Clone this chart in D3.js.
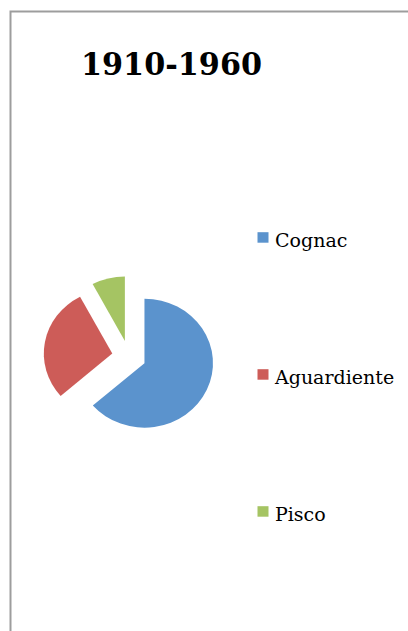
<!DOCTYPE html>
<html>
<head>
<meta charset="utf-8">
<script src="https://cdn.jsdelivr.net/npm/d3@7"></script>
<style>
  html, body { margin: 0; padding: 0; background: #fff; }
  svg { display: block; }
</style>
</head>
<body>
<svg id="chart" width="408" height="631"></svg>
<script>
// Chart data
const title = '1910-1960';
const categories = ['Cognac', 'Aguardiente', 'Pisco'];
const values = [63.6, 28.6, 7.8];
const colors = ['#5B93CD', '#CD5C58', '#A5C463'];

const width = 408, height = 631;
const svg = d3.select('#chart');

// Outer chart border (runs off the right and bottom edges)
svg.append('rect')
  .attr('x', 10.5)
  .attr('y', 11.5)
  .attr('width', 430)
  .attr('height', 650)
  .attr('fill', '#fff')
  .attr('stroke', '#9d9d9d')
  .attr('stroke-width', 2);

// Title
svg.append('text')
  .attr('x', 81)
  .attr('y', 75)
  .attr('font-family', '"DejaVu Serif", serif')
  .attr('font-weight', 'bold')
  .attr('font-size', 31)
  .attr('textLength', 181)
  .attr('lengthAdjust', 'spacingAndGlyphs')
  .attr('fill', '#000')
  .text(title);

// Pie (source picture is slightly stretched horizontally)
const color = d3.scaleOrdinal().domain(categories).range(colors);
const radius = 64.5;
const explode = 16;

const pie = d3.pie().sort(null).value((d, i) => values[i]);
const arc = d3.arc().innerRadius(0).outerRadius(radius);

const pieGroup = svg.append('g')
  .attr('transform', 'translate(129,356.5) scale(1.062,1)');

pieGroup.selectAll('path')
  .data(pie(categories))
  .join('path')
  .attr('d', arc)
  .attr('fill', (d) => color(d.data))
  .attr('transform', (d) => {
    const a = (d.startAngle + d.endAngle) / 2;
    return `translate(${Math.sin(a) * explode},${-Math.cos(a) * explode})`;
  });

// Legend
const legendY = d3.scalePoint().domain(categories).range([246.7, 520.7]);

const legend = svg.append('g')
  .selectAll('g')
  .data(categories)
  .join('g')
  .attr('transform', (d) => `translate(0,${legendY(d)})`);

legend.append('rect')
  .attr('x', 257.5)
  .attr('y', -14.5)
  .attr('width', 11)
  .attr('height', 10.5)
  .attr('fill', (d) => color(d));

legend.append('text')
  .attr('x', 275)
  .attr('y', 0)
  .attr('font-family', '"DejaVu Serif", serif')
  .attr('font-size', 19)
  .attr('fill', '#000')
  .text((d) => d);
</script>
</body>
</html>
